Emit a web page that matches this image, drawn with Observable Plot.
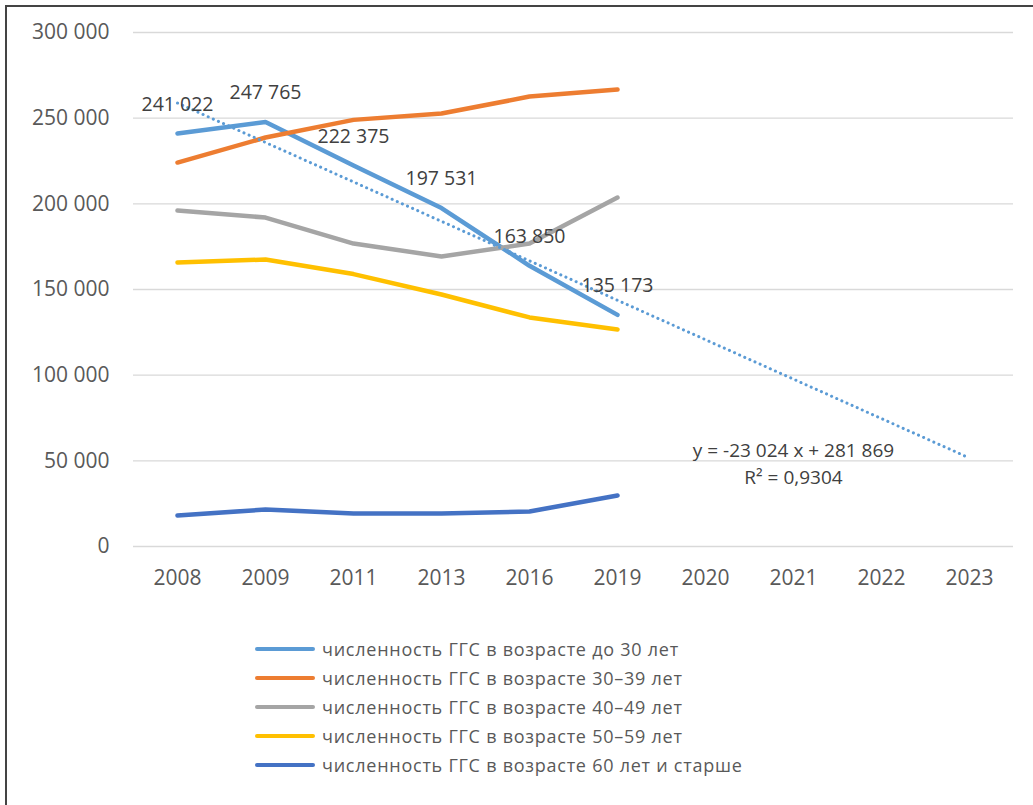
<!DOCTYPE html>
<html>
<head>
<meta charset="utf-8">
<script src="https://cdn.jsdelivr.net/npm/d3@7"></script>
<script src="https://cdn.jsdelivr.net/npm/@observablehq/plot@0.6"></script>
<style>
  html, body { margin: 0; padding: 0; background: #fff; }
  #page { position: relative; width: 1033px; height: 805px; overflow: hidden; font-family: "Open Sans", sans-serif; }
  #frame { position: absolute; left: 5px; top: 5px; right: -20px; bottom: -20px; border: 2px solid #444; }
  #chart { position: absolute; left: 0; top: 0; }
  #legend { position: absolute; left: 255px; top: 634px; }
  .item { display: flex; align-items: center; height: 29px; }
  .sw { width: 60px; height: 4px; border-radius: 2px; margin-right: 7px; }
  .lbl { font-size: 18px; letter-spacing: 0.75px; color: #595959; white-space: nowrap; }
</style>
</head>
<body>
<div id="page">
  <div id="frame"></div>
  <div id="chart"></div>
  <div id="legend"></div>
</div>
<script>
// Categories (x axis)
const years = ["2008", "2009", "2011", "2013", "2016", "2019", "2020", "2021", "2022", "2023"];
const dataYears = ["2008", "2009", "2011", "2013", "2016", "2019"];

// Series values
const under30 = [241022, 247765, 222375, 197531, 163850, 135173];
const age30to39 = [224100, 238700, 249000, 252700, 262600, 266700];
const age40to49 = [196100, 192000, 176800, 169300, 176800, 203700];
const age50to59 = [165800, 167500, 159000, 147100, 133700, 126700];
const age60plus = [18100, 21600, 19300, 19300, 20400, 29800];

// Trend line (linear, from the chart's equation) endpoints
const trendYears = ["2008", "2023"];
const trendValues = [258845, 51629];
const trendEquation = "y = -23 024 x + 281 869";
const trendR2 = "R² = 0,9304";

// Y tick values
const yTicks = [0, 50000, 100000, 150000, 200000, 250000, 300000];

// Series names and colours
const seriesNames = [
  "численность ГГС в возрасте до 30 лет",
  "численность ГГС в возрасте 30–39 лет",
  "численность ГГС в возрасте 40–49 лет",
  "численность ГГС в возрасте 50–59 лет",
  "численность ГГС в возрасте 60 лет и старше"
];
const seriesValues = [under30, age30to39, age40to49, age50to59, age60plus];
const seriesColors = ["#5b9bd5", "#ed7d31", "#a5a5a5", "#ffc000", "#4472c4"];

const rows = seriesNames.flatMap((name, i) =>
  dataYears.map((yr, j) => ({series: name, year: yr, value: seriesValues[i][j]})));
const labelRows = dataYears.map((yr, j) => ({year: yr, value: under30[j]}));
const trendRows = trendYears.map((yr, j) => ({year: yr, value: trendValues[j]}));

const fmt = v => d3.format(",")(v).replace(/,/g, " ");

const plot = Plot.plot({
  width: 1033,
  height: 600,
  marginLeft: 133,
  marginRight: 20,
  marginTop: 32,
  marginBottom: 54,
  style: {fontFamily: "'Open Sans', sans-serif", background: "transparent"},
  x: {type: "point", domain: years, padding: 0.5},
  y: {domain: [0, 300000]},
  color: {domain: seriesNames, range: seriesColors},
  marks: [
    Plot.gridY(yTicks, {stroke: "#d9d9d9", strokeOpacity: 1, strokeWidth: 1.3}),
    Plot.axisY(yTicks, {tickSize: 0, tickPadding: 24, tickFormat: fmt, fontSize: 21, fill: "#595959", label: null}),
    Plot.axisX(years, {tickSize: 0, tickPadding: 24, fontSize: 21, fill: "#595959", label: null}),
    Plot.line(rows, {x: "year", y: "value", z: "series", stroke: "series", strokeWidth: 4.5, strokeLinejoin: "round", strokeLinecap: "round"}),
    Plot.line(trendRows, {x: "year", y: "value", stroke: seriesColors[0], strokeWidth: 3, strokeLinecap: "round", strokeDasharray: "0.1 5.5"}),
    Plot.text(labelRows, {x: "year", y: "value", text: d => fmt(d.value), dy: -29, fontSize: 19.5, fill: "#404040"}),
    Plot.text([trendEquation], {x: () => "2021", y: () => 56000, text: d => d, fontSize: 19, fill: "#404040"}),
    Plot.text([trendR2], {x: () => "2021", y: () => 40300, text: d => d, fontSize: 19, fill: "#404040"})
  ]
});
document.getElementById("chart").appendChild(plot);

const legend = document.getElementById("legend");
seriesNames.forEach((name, i) => {
  const item = document.createElement("div");
  item.className = "item";
  const sw = document.createElement("div");
  sw.className = "sw";
  sw.style.background = seriesColors[i];
  const lbl = document.createElement("div");
  lbl.className = "lbl";
  lbl.textContent = name;
  item.appendChild(sw);
  item.appendChild(lbl);
  legend.appendChild(item);
});
</script>
</body>
</html>
